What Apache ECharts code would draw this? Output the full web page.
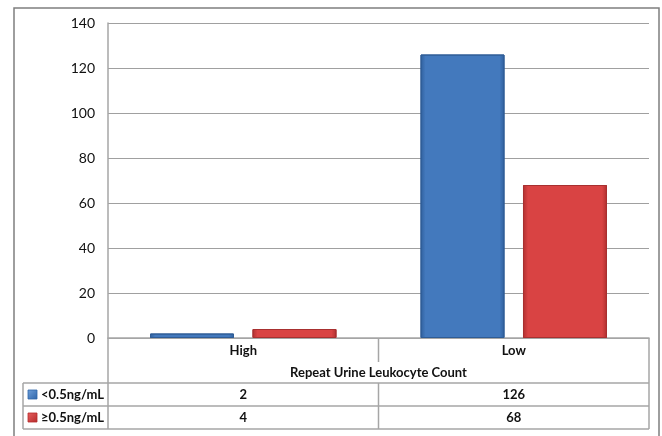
<!DOCTYPE html>
<html>
<head>
<meta charset="utf-8">
<script src="https://cdn.jsdelivr.net/npm/echarts@6/dist/echarts.min.js"></script>
<style>
  html, body { margin: 0; padding: 0; background: #fff; }
  #chart { width: 662px; height: 436px; }
</style>
</head>
<body>
<div id="chart"></div>
<script>
// Data
const categories = ['High', 'Low'];
const seriesNames = ['<0.5ng/mL', '\u22650.5ng/mL'];
const lowPsa = [2, 126];
const highPsa = [4, 68];
const yTicks = [0, 20, 40, 60, 80, 100, 120, 140];
const axisTitle = 'Repeat Urine Leukocyte Count';

const FONT = 'Lato, "Open Sans", sans-serif';
const GRID = { left: 108, right: 13, top: 23, bottom: 98 };
const W = 662, H = 436;

function barStyle(mid, edge, border) {
  return {
    color: {
      type: 'linear', x: 0, y: 0, x2: 1, y2: 0,
      colorStops: [
        { offset: 0, color: edge },
        { offset: 0.06, color: mid },
        { offset: 0.94, color: mid },
        { offset: 1, color: edge }
      ]
    },
    borderColor: border,
    borderWidth: 1
  };
}

const chart = echarts.init(document.getElementById('chart'), null, { renderer: 'canvas' });

const option = {
  animation: false,
  backgroundColor: '#fff',
  grid: { left: GRID.left, right: GRID.right, top: GRID.top, bottom: GRID.bottom, containLabel: false },
  xAxis: {
    type: 'category',
    data: categories,
    axisLine: { show: true, lineStyle: { color: '#a6a6a6', width: 1.5 } },
    axisTick: { show: false },
    axisLabel: { color: '#111', fontFamily: FONT, fontWeight: 'bold', fontSize: 13, margin: 6 },
    name: axisTitle,
    nameLocation: 'middle',
    nameGap: 28,
    nameTextStyle: { color: '#111', fontFamily: FONT, fontWeight: 'bold', fontSize: 13 }
  },
  yAxis: {
    type: 'value',
    min: yTicks[0],
    max: yTicks[yTicks.length - 1],
    interval: yTicks[1] - yTicks[0],
    axisLine: { show: true, lineStyle: { color: '#a6a6a6', width: 1.5 } },
    axisTick: { show: false },
    axisLabel: { color: '#111', fontFamily: FONT, fontSize: 14, margin: 13 },
    splitLine: { lineStyle: { color: '#a0a0a0', width: 1.2 } }
  },
  series: [
    {
      name: seriesNames[0], type: 'bar', data: lowPsa,
      barWidth: 84, barGap: '22%',
      itemStyle: barStyle('#4379bd', '#2f5f9c', '#2e5c96')
    },
    {
      name: seriesNames[1], type: 'bar', data: highPsa,
      barWidth: 84, barGap: '22%',
      itemStyle: barStyle('#d94343', '#b03030', '#a83030')
    }
  ]
};
chart.setOption(option);

// Data table under the plot
const x0 = GRID.left, x1 = W - GRID.right, yAxis0 = H - GRID.bottom;
const tableLeft = 23;
const rowTops = [383, 406, 429];
const midX = (x0 + x1) / 2;
const lineStyle = { stroke: '#a6a6a6', lineWidth: 1.5 };
const g = [];

function hline(y, xa, xb) { g.push({ type: 'line', shape: { x1: xa, y1: y, x2: xb, y2: y }, style: lineStyle, silent: true }); }
function vline(x, ya, yb) { g.push({ type: 'line', shape: { x1: x, y1: ya, x2: x, y2: yb }, style: lineStyle, silent: true }); }

rowTops.forEach(y => hline(y, tableLeft, x1));
vline(x0, yAxis0, rowTops[2]);
vline(x1, yAxis0, rowTops[2]);
vline(tableLeft, rowTops[0], rowTops[2]);
vline(midX, yAxis0, 362);
vline(midX, rowTops[0], rowTops[2]);

const rows = [
  { name: seriesNames[0], values: lowPsa, key: ['#6fa0db', '#2e64a8'] },
  { name: seriesNames[1], values: highPsa, key: ['#e86060', '#b52b2b'] }
];
rows.forEach((r, i) => {
  const cy = (rowTops[i] + rowTops[i + 1]) / 2;
  g.push({
    type: 'rect', shape: { x: 28, y: cy - 4.5, width: 9, height: 9 },
    style: {
      fill: { type: 'linear', x: 0, y: 0, x2: 1, y2: 1, colorStops: [{ offset: 0, color: r.key[0] }, { offset: 1, color: r.key[1] }] },
      stroke: r.key[1], lineWidth: 0.8
    }, silent: true
  });
  g.push({
    type: 'text', x: 41, y: cy,
    style: { text: r.name, fill: '#111', font: 'bold 13px ' + FONT, verticalAlign: 'middle', align: 'left' },
    silent: true
  });
  r.values.forEach((v, j) => {
    const cx = chart.convertToPixel({ xAxisIndex: 0 }, categories[j]);
    g.push({
      type: 'text', x: cx, y: cy,
      style: { text: String(v), fill: '#111', font: 'bold 13px ' + FONT, verticalAlign: 'middle', align: 'center' },
      silent: true
    });
  });
});

// Outer chart frame
g.push({ type: 'rect', shape: { x: 14, y: 8, width: 645, height: 440 }, style: { fill: 'none', stroke: '#7f7f7f', lineWidth: 1.5 }, silent: true });

chart.setOption({ graphic: g });
</script>
</body>
</html>
